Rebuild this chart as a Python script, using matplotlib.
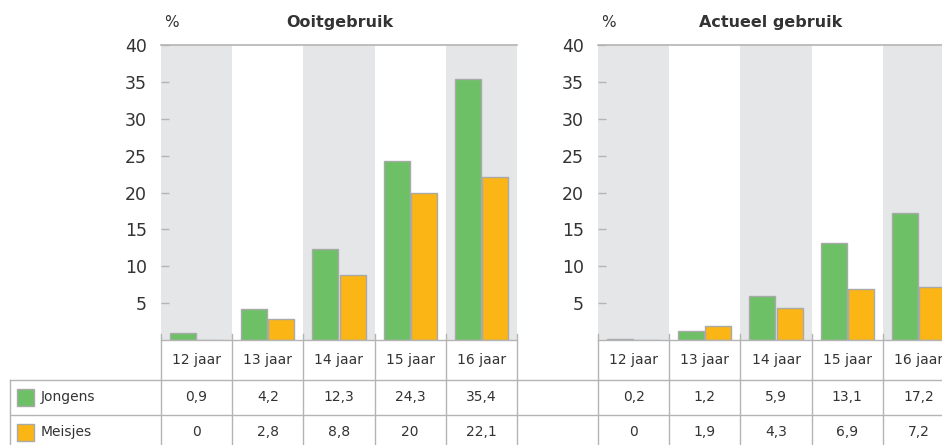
import numpy as np
import matplotlib
matplotlib.use("Agg")
import matplotlib.pyplot as plt

categories = ["12 jaar", "13 jaar", "14 jaar", "15 jaar", "16 jaar"]
series = ["Jongens", "Meisjes"]
ooit_jongens = [0.9, 4.2, 12.3, 24.3, 35.4]
ooit_meisjes = [0.0, 2.8, 8.8, 20.0, 22.1]
actueel_jongens = [0.2, 1.2, 5.9, 13.1, 17.2]
actueel_meisjes = [0.0, 1.9, 4.3, 6.9, 7.2]
yticks = [5, 10, 15, 20, 25, 30, 35, 40]

GREEN = "#6dc066"
ORANGE = "#fbb515"
BAND = "#e5e6e8"
LINE = "#b4b4b4"
TEXT = "#333333"

W, H = 942, 445
fig = plt.figure(figsize=(W / 100, H / 100), dpi=100)

# layout in pixels
col_w = 71.2
top_px, base_px = 45, 340
row_lines = [380, 415]
panels = [
    (161, 340, "Ooitgebruik", ooit_jongens, ooit_meisjes),
    (598, 771, "Actueel gebruik", actueel_jongens, actueel_meisjes),
]


def fmt(v):
    return f"{v:g}".replace(".", ",")


def draw_panel(left_px, title_x, title, jongens, meisjes):
    ax = fig.add_axes([left_px / W, (H - base_px) / H, 5 * col_w / W, (base_px - top_px) / H])
    x = np.arange(len(categories))
    for i in range(0, len(categories), 2):
        ax.axvspan(i - 0.5, i + 0.5, color=BAND, lw=0, zorder=0)
    bw, off = 0.365, 0.19
    ax.bar(x - off, jongens, bw, color=GREEN, edgecolor="#a9a9a9", lw=1, zorder=2)
    ax.bar(x + off, meisjes, bw, color=ORANGE, edgecolor="#a9a9a9", lw=1, zorder=2)
    ax.set_xlim(-0.5, len(categories) - 0.5)
    ax.set_ylim(0, 40)
    ax.set_yticks(yticks)
    ax.set_yticklabels([str(t) for t in yticks], fontsize=12.5, color=TEXT)
    ax.tick_params(axis="y", direction="in", length=6, width=1, color=LINE, pad=10)
    ax.set_xticks([])
    for s in ["left", "right"]:
        ax.spines[s].set_visible(False)
    ax.spines["top"].set_color(LINE)
    ax.spines["bottom"].set_color(LINE)
    ax.spines["top"].set_linewidth(1.2)
    ax.spines["bottom"].set_linewidth(1)
    ax.set_facecolor("white")
    ax.text(0.01, 1.05, "%", transform=ax.transAxes, fontsize=11, color=TEXT,
            ha="left", va="bottom")
    fig.text(title_x / W, (H - 22) / H, title, fontsize=11.5,
             fontweight="bold", color=TEXT, ha="center", va="center")


for p in panels:
    draw_panel(*p)

# table overlay in pixel coordinates
tab = fig.add_axes([0, 0, 1, 1], zorder=5)
tab.set_xlim(0, W)
tab.set_ylim(H, 0)
tab.axis("off")
tab.patch.set_alpha(0)

for y in row_lines:
    tab.plot([10, W], [y, y], color=LINE, lw=1)
tab.plot([10, 10], [row_lines[0], H], color=LINE, lw=1)

edges = []
for left_px, *_ in panels:
    edges += [left_px + k * col_w for k in range(len(categories) + 1)]
for e in edges:
    tab.plot([e, e], [base_px - 6, H], color=LINE, lw=1)

ycent = [360, 397, 432]
for left_px, _, _, jongens, meisjes in panels:
    for k, cat in enumerate(categories):
        cx = left_px + (k + 0.5) * col_w
        tab.text(cx, ycent[0], cat, ha="center", va="center", fontsize=10, color=TEXT)
        tab.text(cx, ycent[1], fmt(jongens[k]), ha="center", va="center", fontsize=10, color=TEXT)
        tab.text(cx, ycent[2], fmt(meisjes[k]), ha="center", va="center", fontsize=10, color=TEXT)

for name, col, yc in zip(series, [GREEN, ORANGE], ycent[1:]):
    tab.add_patch(plt.Rectangle((17, yc - 8.5), 17, 17, facecolor=col,
                                edgecolor="#a9a9a9", lw=1))
    tab.text(41, yc, name, ha="left", va="center", fontsize=10, color=TEXT)

fig.savefig("out.png", dpi=100)
